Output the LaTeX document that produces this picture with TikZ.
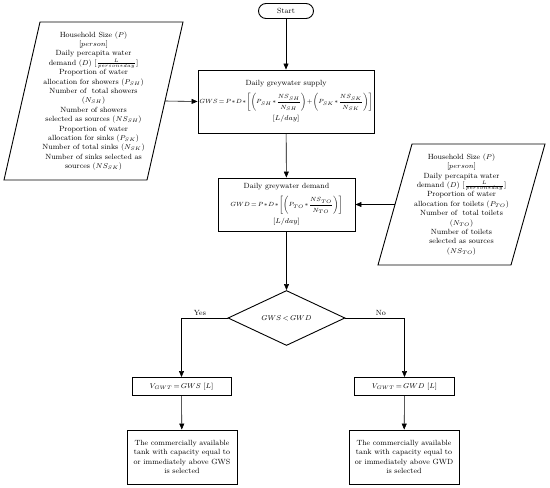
\documentclass[tikz,border=0pt]{standalone}
\usepackage{amsmath}
\usetikzlibrary{shapes.geometric,arrows.meta}
\newcommand\mytight{\lineskiplimit=-4pt\relax\lineskip=0pt\relax}
\newcommand\myeqsp{\medmuskip=1mu\relax\thickmuskip=2.5mu\relax\lineskiplimit=1pt\relax\lineskip=2pt\relax}
\begin{document}
\begin{tikzpicture}[x=1pt,y=-1pt,
  every node/.style={font=\fontsize{7.5}{9.4}\selectfont\mytight, align=center, inner sep=1pt},
  boxstyle/.style={draw, line width=0.9pt, rectangle},
  parashape/.style={draw, line width=0.9pt},
  flow/.style={draw, line width=0.6pt, -{Triangle[length=6pt,width=5pt]}},
  eqfont/.style={font=\fontsize{6.6}{9}\selectfont\myeqsp},
  bigeq/.style={font=\fontsize{6}{8.5}\selectfont\myeqsp},
  lbl/.style={font=\fontsize{7.5}{9}\selectfont}]
\useasboundingbox (0,0) rectangle (550,488);
\node[draw, line width=0.9pt, rounded corners=7.5pt, minimum width=55pt, minimum height=15pt] (start) at (286,11) {Start};
\node[boxstyle, bigeq, minimum width=176pt, minimum height=63pt] (supply) at (286,101.5) {\fontsize{7.5}{9}\selectfont Daily greywater supply\\[4pt]
$GWS = P*D*\left[\left(P_{SH}*\dfrac{NS_{SH}}{N_{SH}}\right)+\left(P_{SK}*\dfrac{NS_{SK}}{N_{SK}}\right)\right]$\\[2pt]
{\fontsize{6.6}{8}\selectfont$[L/day]$}};
% left parallelogram
\draw[parashape] (40,22) -- (183,22) -- (147,180) -- (4,180) -- cycle;
\coordinate (lparaE) at (165,101);
\node (lpara) at (93.5,101) {Household Size ($P$)\\
{[}$person${]}\\
Daily percapita water\\
demand ($D$) {[}$\frac{L}{person*day}${]}\\
Proportion of water\\
allocation for showers ($P_{SH}$)\\
Number of\ \ total showers\\
($N_{SH}$)\\
Number of showers\\
selected as sources ($NS_{SH}$)\\
Proportion of water\\
allocation for sinks ($P_{SK}$)\\
Number of total sinks ($N_{SK}$)\\
Number of sinks selected as\\
sources ($NS_{SK}$)};
\node[boxstyle, bigeq, minimum width=137pt, minimum height=53pt] (demand) at (286.5,204.5) {\fontsize{7.5}{9}\selectfont Daily greywater demand\\[4pt]
$GWD = P*D*\left[\left(P_{TO}*\dfrac{NS_{TO}}{N_{TO}}\right)\right]$\\[2pt]
{\fontsize{6.6}{8}\selectfont$[L/day]$}};
% right parallelogram
\draw[parashape] (412,144) -- (545,144) -- (511,265) -- (378,265) -- cycle;
\coordinate (rparaW) at (395,204.5);
\node (rpara) at (461.5,204.5) {Household Size ($P$)\\
{[}$person${]}\\
Daily percapita water\\
demand ($D$) {[}$\frac{L}{person*day}${]}\\
Proportion of water\\
allocation for toilets ($P_{TO}$)\\
Number of\ \ total toilets\\
($N_{TO}$)\\
Number of toilets\\
selected as sources\\
($NS_{TO}$)};
\node[draw, line width=0.9pt, diamond, aspect=2.1, minimum width=117pt, minimum height=55pt, inner sep=0pt, eqfont] (dec) at (286.5,318) {$GWS < GWD$};
\node[boxstyle, eqfont, minimum width=99pt, minimum height=18pt] (vl) at (181.5,386.5) {$V_{GWT} = GWS\ [L]$};
\node[boxstyle, eqfont, minimum width=100pt, minimum height=18pt] (vr) at (404.5,386.5) {$V_{GWT} = GWD\ [L]$};
\node[boxstyle, minimum width=110pt, minimum height=54pt] (fl) at (182,457) {The commercially available\\tank with capacity equal to\\or immediately above GWS\\is selected};
\node[boxstyle, minimum width=110pt, minimum height=54pt] (fr) at (404,457) {The commercially available\\tank with capacity equal to\\or immediately above GWD\\is selected};
\draw[flow] (start) -- (supply);
\draw[flow] (lparaE) -- (supply.west);
\draw[flow] (supply) -- (demand);
\draw[flow] (rparaW) -- (demand.east);
\draw[flow] (demand) -- (dec);
\draw[flow] (dec.west) -| node[lbl, pos=0.3, above=1pt] {Yes} (vl.north);
\draw[flow] (dec.east) -| node[lbl, pos=0.3, above=1pt] {No} (vr.north);
\draw[flow] (vl) -- (fl);
\draw[flow] (vr) -- (fr);
\end{tikzpicture}
\end{document}
